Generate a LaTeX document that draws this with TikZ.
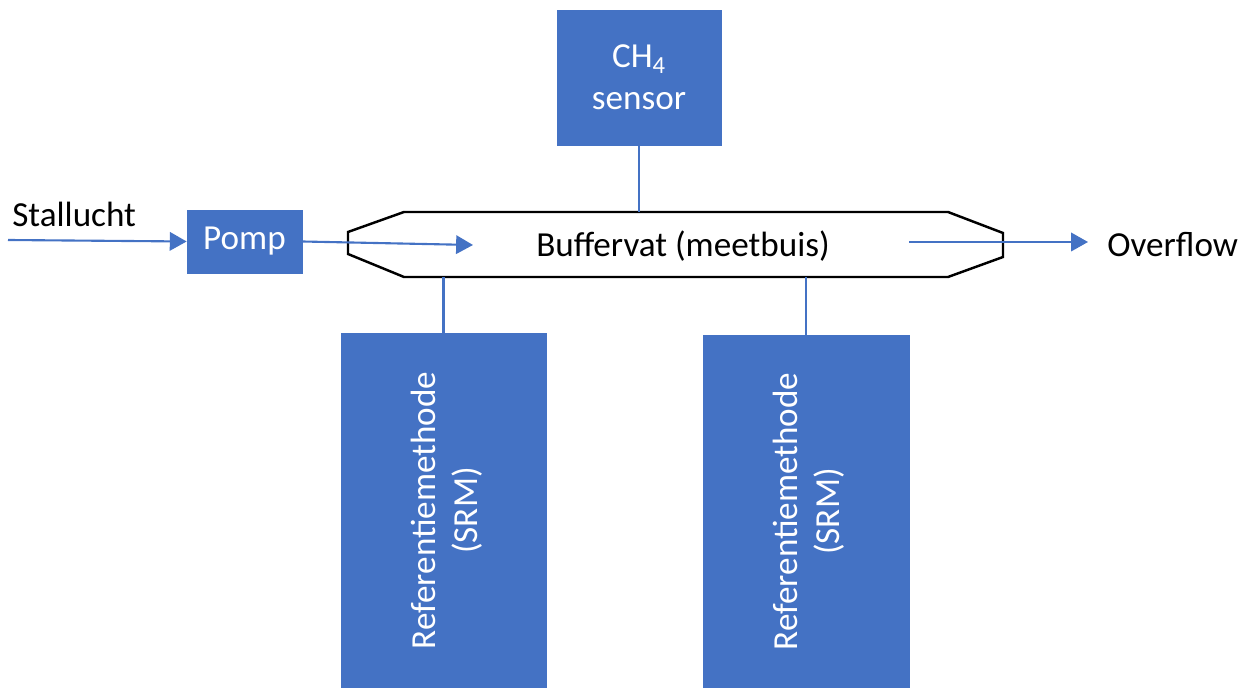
\documentclass[tikz,border=0pt]{standalone}
\usepackage{fontspec}
\setmainfont{Carlito}
\usetikzlibrary{arrows.meta}
\definecolor{officeblue}{HTML}{4472C4}
\begin{document}
\begin{tikzpicture}[x=0.02cm,y=-0.02cm,font=\fontsize{20}{24}\selectfont,
  bluebox/.style={fill=officeblue,draw=officeblue,text=white,inner sep=0pt},
  flow/.style={draw=officeblue,line width=1.2pt},
  flowtip/.style={flow,-{Triangle[length=9.6pt,width=10.5pt,fill=officeblue]}}]
\useasboundingbox (0,0) rectangle (1247,688);
% buffervat
\draw[line width=1.4pt] (348,232) -- (404,212) -- (948,212) -- (1003,233) -- (1003,257) -- (948,277) -- (404,277) -- (348,254) -- cycle;
\coordinate (vtop) at (0,212);
\coordinate (vbot) at (0,277);
\node (buffer) at (683,246) {Buffervat (meetbuis)};
% boxes
\node[bluebox,minimum width=2.3cm,minimum height=1.26cm] (pomp) at (244.5,241.5) {Pomp};
\node[bluebox,minimum width=3.28cm,minimum height=2.7cm,align=center] (sensor) at (639,77.5) {CH\textsubscript{4}\\sensor};
\node[bluebox,minimum width=4.1cm,minimum height=7.1cm] (srmA) at (443.5,510.5) {};
\node[bluebox,minimum width=4.12cm,minimum height=7.06cm] (srmB) at (806,511.5) {};
\node[text=white,rotate=90,align=center] at ([xshift=0.06cm]srmA) {Referentiemethode\\(SRM)};
\node[text=white,rotate=90,align=center] at ([xshift=0.06cm]srmB) {Referentiemethode\\(SRM)};
% texts
\node[anchor=base west,inner sep=0pt] (stal) at (12,227) {Stallucht};
\node[anchor=base west,inner sep=0pt] (overflow) at (1107,257) {Overflow};
% flow
\coordinate (inlet) at (8,240);
\coordinate (intip) at (473,245);
\coordinate (outstart) at (909,242);
\draw[flowtip] (inlet) -- (pomp.west);
\draw[flowtip] (pomp.east) -- (intip);
\draw[flowtip] (outstart) -- ([xshift=-19*0.02cm]outstart -| overflow.west);
\draw[flow] (sensor.south) -- (sensor.south |- vtop);
\draw[flow] (srmA.north) -- (srmA.north |- vbot);
\draw[flow] (srmB.north) -- (srmB.north |- vbot);
\end{tikzpicture}
\end{document}
